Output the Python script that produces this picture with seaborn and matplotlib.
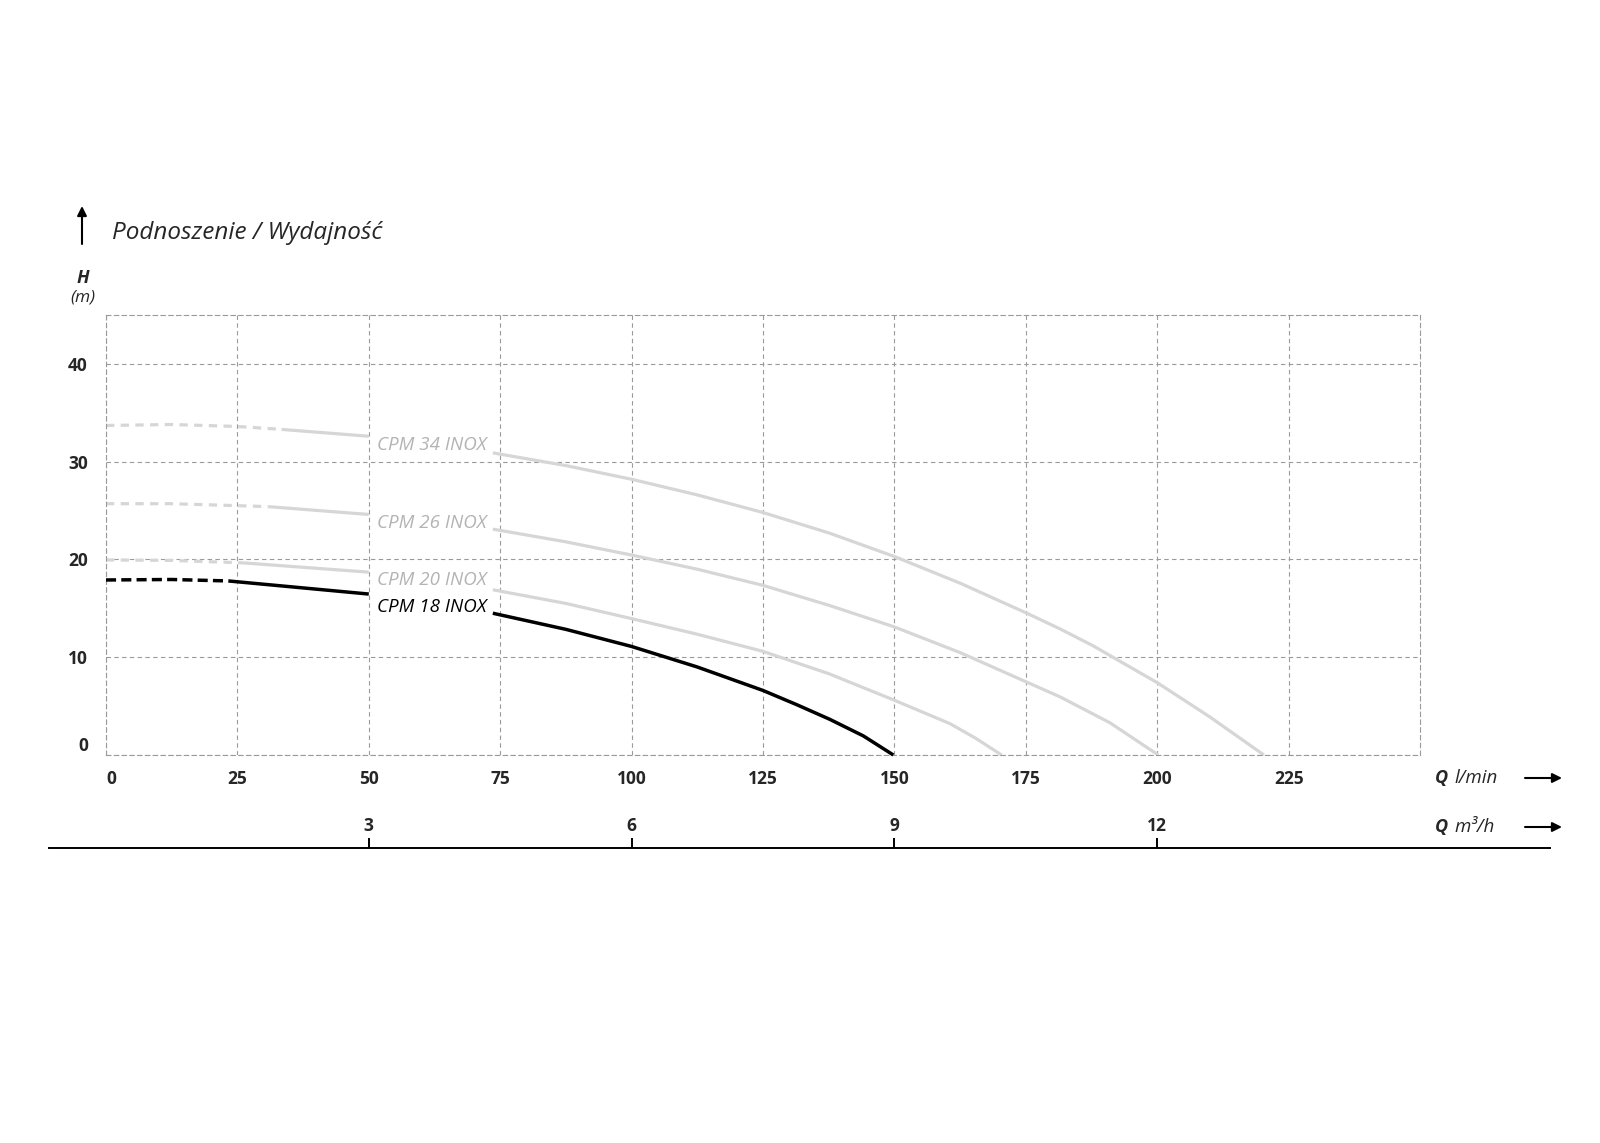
import numpy as np
import pandas as pd
import matplotlib
matplotlib.use('Agg')
import matplotlib.pyplot as plt
import seaborn as sns

# pump curves: flow Q (l/min) -> head H (m)
pumps = ['CPM 34 INOX', 'CPM 26 INOX', 'CPM 20 INOX', 'CPM 18 INOX']
q_34 = [0, 12.5, 25, 33.4, 50, 73.6, 87.5, 100, 112.5, 125, 137.6, 150,
        162.6, 175, 181.5, 187.7, 200, 210, 220.3]
h_34 = [33.7, 33.8, 33.6, 33.3, 32.6, 30.9, 29.6, 28.2, 26.6, 24.8, 22.7, 20.3,
        17.55, 14.55, 12.9, 11.2, 7.4, 3.9, 0]
q_26 = [0, 12.5, 25, 30.9, 50, 73.6, 87.5, 100, 112.5, 125, 137.6, 150,
        162.6, 175, 181.5, 191, 200.2]
h_26 = [25.7, 25.7, 25.5, 25.4, 24.6, 23.1, 21.8, 20.45, 19.0, 17.35, 15.3, 13.1,
        10.45, 7.5, 5.95, 3.3, 0]
q_20 = [0, 12.5, 26.1, 50, 73.6, 87.5, 100, 112.5, 125, 137.6, 150, 160.6,
        165.5, 170.4]
h_20 = [19.95, 19.9, 19.65, 18.7, 16.9, 15.5, 13.95, 12.35, 10.6, 8.3, 5.6, 3.2,
        1.7, 0]
q_18 = [0, 12.5, 23.3, 50, 73.6, 87.5, 100, 112.5, 125, 131.4, 137.7, 144.1, 149.8]
h_18 = [17.9, 17.95, 17.8, 16.46, 14.5, 12.85, 11.1, 9.0, 6.6, 5.15, 3.65, 1.95, 0]
# dashed part ends here, then the line is broken for the label
dash_end = [33.4, 30.9, 26.1, 23.3]
gap_start, gap_end = 50, 73.6

x_ticks = list(range(0, 250, 25))
y_ticks = [0, 10, 20, 30, 40]
m3h_ticks = [3, 6, 9, 12]

W, H = 1600, 1143
sns.set_style('white')
plt.rcParams['font.family'] = ['Open Sans', 'DejaVu Sans']

fig = plt.figure(figsize=(W / 100, H / 100), dpi=100)
ax_l, ax_r, ax_t, ax_b = 106, 1420, 315, 755
ax = fig.add_axes([ax_l / W, 1 - ax_b / H, (ax_r - ax_l) / W, (ax_b - ax_t) / H])

rows = []
for name, q, h, d_end in zip(pumps, [q_34, q_26, q_20, q_18],
                             [h_34, h_26, h_20, h_18], dash_end):
    for qi, hi in zip(q, h):
        if qi <= d_end:
            rows.append((name, 'dash', qi, hi))
        if d_end <= qi <= gap_start:
            rows.append((name, 'a', qi, hi))
        if qi >= gap_end:
            rows.append((name, 'b', qi, hi))
df = pd.DataFrame(rows, columns=['pump', 'seg', 'Q', 'H'])

for (name, seg), sub in df.groupby(['pump', 'seg']):
    black = name == 'CPM 18 INOX'
    color = 'black' if black else '#d6d6d6'
    lw = 2.5 if black else 2.3
    if seg == 'dash':
        ls = (0, (2.9, 1.5)) if black else (0, (2.6, 2.0))
    else:
        ls = '-'
    sns.lineplot(data=sub, x='Q', y='H', ax=ax, color=color, lw=lw,
                 linestyle=ls, estimator=None, sort=False, legend=False,
                 solid_capstyle='butt', dash_capstyle='butt',
                 solid_joinstyle='round', clip_on=False,
                 zorder=3 if black else 2)

label_y = [31.7, 23.7, 17.9, 15.1]
for name, ly in zip(pumps, label_y):
    ax.text(51.6, ly, name, style='italic', fontsize=13.5, va='center',
            ha='left', color='black' if name == 'CPM 18 INOX' else '#b3b3b3')

ax.set_xlim(0, 250)
ax.set_ylim(0, 45)
ax.set_xticks(x_ticks)
ax.set_yticks(y_ticks)
ax.set_xticklabels([str(t) for t in x_ticks], fontweight='bold', fontsize=12.5)
ax.set_yticklabels([str(t) for t in y_ticks], fontweight='bold', fontsize=12.5)
ax.get_xticklabels()[0].set_ha('left')
ax.get_yticklabels()[0].set_va('bottom')
ax.tick_params(axis='both', length=0)
ax.tick_params(axis='x', pad=11)
ax.tick_params(axis='y', pad=13)
ax.set_xlabel('')
ax.set_ylabel('')
grid_ls = (0, (4, 3))
ax.grid(True, color='#9a9a9a', lw=0.8, linestyle=grid_ls)
ax.set_axisbelow(True)
for sp in ax.spines.values():
    sp.set_visible(True)
    sp.set_color('#9a9a9a')
    sp.set_linewidth(0.8)
    sp.set_linestyle(grid_ls)

# second flow scale in m3/h on a solid baseline
px_per_q = (ax_r - ax_l) / 250
line_l, line_r, line_y = 49, 1550, 848
q_left = (line_l - ax_l) / px_per_q
q_right = (line_r - ax_l) / px_per_q
ax2 = fig.add_axes([line_l / W, 1 - line_y / H - 0.001, (line_r - line_l) / W, 0.001])
ax2.set_xlim(q_left * 0.06, q_right * 0.06)
ax2.set_yticks([])
for s in ['left', 'right', 'bottom']:
    ax2.spines[s].set_visible(False)
ax2.spines['top'].set_color('black')
ax2.spines['top'].set_linewidth(1.4)
ax2.xaxis.tick_top()
ax2.set_xticks(m3h_ticks)
ax2.set_xticklabels([str(t) for t in m3h_ticks], fontweight='bold', fontsize=12.5)
ax2.tick_params(axis='x', direction='out', length=7, width=1.4, color='black', pad=2.5)
ax2.patch.set_alpha(0)

# title and axis captions
def fy(y):
    return 1 - y / H

fig.text(112 / W, fy(233), 'Podnoszenie / Wydajność', style='italic',
         fontsize=17.5, va='center', ha='left')
ax.annotate('', xy=(82 / W, fy(206)), xytext=(82 / W, fy(244)),
            xycoords='figure fraction', textcoords='figure fraction',
            arrowprops=dict(arrowstyle='-|>', color='black', lw=1.5,
                            mutation_scale=14, shrinkA=0, shrinkB=0))
fig.text(83 / W, fy(278), 'H', style='italic', fontweight='bold',
         fontsize=13, va='center', ha='center')
fig.text(83 / W, fy(297), '(m)', style='italic', fontsize=12.5,
         va='center', ha='center')

for yy, unit in [(778, 'l/min'), (827, 'm³/h')]:
    fig.text(1435 / W, fy(yy), 'Q', style='italic', fontweight='bold',
             fontsize=13, va='center', ha='left')
    fig.text(1454 / W, fy(yy), unit, style='italic', fontsize=13.5,
             va='center', ha='left')
    ax.annotate('', xy=(1562 / W, fy(yy)), xytext=(1525 / W, fy(yy)),
                xycoords='figure fraction', textcoords='figure fraction',
                arrowprops=dict(arrowstyle='-|>', color='black', lw=1.5,
                                mutation_scale=14, shrinkA=0, shrinkB=0))

fig.savefig('out.png', dpi=100, facecolor='white')
